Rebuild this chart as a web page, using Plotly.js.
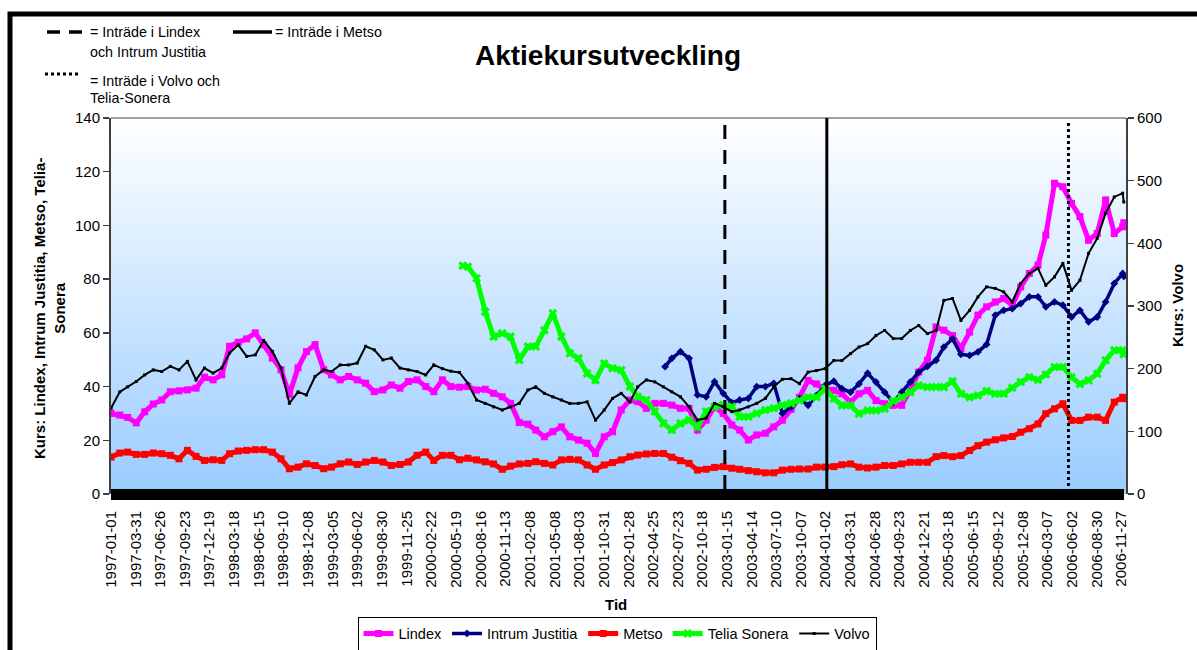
<!DOCTYPE html>
<html><head><meta charset="utf-8">
<script src="https://cdn.plot.ly/plotly-3.0.1.min.js"></script>
<style>html,body{margin:0;padding:0;background:#fff;}#chart{width:1197px;height:650px;}</style>
</head><body><div id="chart"></div>
<script>
// ---- tick labels (category dates on the x axis) ----
const tickLabels = ["1997-01-01","1997-03-31","1997-06-26","1997-09-23","1997-12-19","1998-03-18","1998-06-15","1998-09-10","1998-12-08","1999-03-05","1999-06-02","1999-08-30","1999-11-25","2000-02-22","2000-05-19","2000-08-16","2000-11-13","2001-02-08","2001-05-08","2001-08-03","2001-10-31","2002-01-28","2002-04-25","2002-07-23","2002-10-18","2003-01-15","2003-04-14","2003-07-10","2003-10-07","2004-01-02","2004-03-31","2004-06-28","2004-09-23","2004-12-21","2005-03-18","2005-06-15","2005-09-12","2005-12-08","2006-03-07","2006-06-02","2006-08-30","2006-11-27"];

const seriesNames = ["Lindex","Intrum Justitia","Metso","Telia Sonera","Volvo"];
const endDate = "2006-12-05";
const teliaStart = "2000-06-13";
const intrumStart = "2002-06-07";

// monthly readings (first of month), 1997-01 .. 2006-12, then final day
const lindex = [
 30,29.4,28.5,26.5,30.6,33.5,35,38.1,38.4,38.75,39.4,43.5,
 42.5,44.4,55,56.5,57.75,60,55.6,50.6,46.25,37,47,53,
 55.6,46.25,44.4,42.5,43.75,42.5,41.25,38.1,38.75,40.6,39.4,41.9,
 42.5,40,38.1,42.5,40,39.75,40,38.7,39,37.5,36.2,33.75,
 26.6,26,23.8,21.3,23.2,25,21.3,20.1,18.9,15.1,21.3,23.2,
 31.3,35,34.4,31.9,33.75,33.75,33.1,31.9,31.9,23.8,27.5,32.5,
 30,25.7,23.8,20.1,22,22.6,25,27.5,31.5,36,42.3,41,
 39.2,38.6,37.3,34.2,37.3,38.6,34.8,33.6,33,33,38.6,45.4,
 49.8,62.2,61,59,54.1,60.3,66.6,69.7,71.5,72.8,70.3,77.1,
 82.1,85.2,96.4,115.7,114.4,108.2,103.3,94.5,97,109.5,97,99.5,
 101];
const metso = [
 13.75,15.25,15.6,14.75,14.75,15.25,15,14.4,13.1,16.25,14,12.5,
 12.75,12.5,15,16,16.25,16.5,16.5,15.6,13.1,9.4,10,11.25,
 10.6,9.4,10,11.25,11.9,11,11.9,12.5,11.9,10.6,11,11.9,
 14.4,15.6,12.5,14.4,14.4,12.75,13.3,12.7,12,11.2,9.2,10.4,
 11.2,11.4,12,11.4,10.8,12.7,12.9,12.7,10.8,9.2,10.8,11.7,
 12.7,13.9,14.5,14.9,15.1,15.1,13.7,12.4,11.4,8.9,9.2,9.9,
 10.2,9.6,9.2,8.7,8.3,7.9,7.9,8.9,9.2,9.3,9.3,10,
 10,10.2,10.9,11.2,10,9.7,10,10.6,10.6,11.2,11.8,11.8,
 11.8,13.9,14.3,13.9,14.3,16.2,18,19.3,20.2,20.9,21.4,23,
 24.3,26.1,29.9,31.7,33.6,27.4,27.4,28.6,28.6,27.4,34.2,36,
 35.5];
const volvo = [
 137,163,171,179.5,190,198,195.5,203.6,198,211.6,182,201,
 193,201,225,238,219.6,222,245,227.7,201,144.6,163,158,
 187.5,198,195.5,206,206,209,235.7,230,214,217,201,198,
 195.5,190,206,200,196,194,176.6,150,144.6,139,134,139,
 144.6,166,171,160.6,155,150,144.6,144.6,147,118,134,152.6,
 160.6,147,171,182,179,171,163,155,139,118,121,144.6,
 139,131.4,134,139,144.6,152.6,171,183,184,176,194.5,197,
 200,213,213,224,234.5,240,253,261,248,248,261,269,
 256,261,309,312,277,293,314.5,330.5,328,322.5,306.5,336,
 352,360,333,346.5,368,325,341,384,408,448,474,480,
 466];
// Telia Sonera: listing day, then 2000-07 .. 2006-12, then final day
const telia = [85,
 84.6,80.3,67.9,58.6,59.8,58.6,
 49.9,54.9,54.9,61,67.3,58.6,52.4,50.5,44.9,42.4,48.6,46.8,
 46.2,40,36.2,35,30.7,26.3,23.8,26.3,27.5,25,30.7,32.5,
 33.1,32.5,28.8,28.8,30,31.3,31.9,33.1,33.75,34.8,36,36,
 39.2,35.5,33,33,29.9,31.1,31.1,31.7,34.6,36,37.9,40.4,
 39.8,39.8,39.8,42,37.3,36,36.7,38.3,37.3,37.3,39.6,41.7,
 43.5,42.5,44.5,47.3,47.3,43.5,41,42.3,44.8,49.8,53.5,53.5,
 52];
// Intrum Justitia: listing day, then 2002-07 .. 2006-12, then final day
const intrum = [47.4,
 50.5,53,50.5,36.9,36.2,41.8,
 37.5,34,35,35.6,40,40,41.2,30,32.3,35.5,33,36.7,
 40.4,42,39.2,37.9,41,45,41.7,37.9,34.2,37.9,41.7,45.4,
 47.5,49.8,54.7,57.8,52,51.6,52.9,55.7,66.6,68.4,69,70.9,
 73.4,73.4,69.7,71.5,70.3,65.9,68.4,64.1,65.9,71.5,78.4,82.1,
 81];

const eventDates = {lindexIntrum: "2003-01-07", metso: "2004-01-07", volvoTelia: "2006-05-21"};

function monthDates(y, m, n){
  const out = [];
  for (let i = 0; i < n; i++){
    const k = m - 1 + i;
    const yy = y + Math.floor(k / 12), mm = (k % 12) + 1;
    out.push(yy + "-" + String(mm).padStart(2, "0") + "-01");
  }
  return out;
}
const xFull = monthDates(1997, 1, 120).concat([endDate]);
const xTelia = [teliaStart].concat(monthDates(2000, 7, 78), [endDate]);
const xIntrum = [intrumStart].concat(monthDates(2002, 7, 54), [endDate]);

// pixel helpers for the frame / decorations
const W = 1197, H = 650;
const L = 111, R = 1126, T = 118, B = 494;
const px = x => (x - L) / (R - L);
const py = y => (B - y) / (B - T);

const traces = [
  {name: seriesNames[0], x: xFull, y: lindex, mode: "lines+markers",
   line: {color: "#FF00FF", width: 5}, marker: {symbol: "square", size: 7, color: "#FF00FF"}},
  {name: seriesNames[1], x: xIntrum, y: intrum, mode: "lines+markers",
   line: {color: "#000080", width: 3.5}, marker: {symbol: "diamond", size: 6, color: "#000080"}},
  {name: seriesNames[2], x: xFull, y: metso, mode: "lines+markers",
   line: {color: "#FF0000", width: 5}, marker: {symbol: "square", size: 7, color: "#FF0000"}},
  {name: seriesNames[3], x: xTelia, y: telia, mode: "lines+markers",
   line: {color: "#00FF00", width: 5}, marker: {symbol: "x", size: 8, color: "#00FF00"}},
  {name: seriesNames[4], x: xFull, y: volvo, yaxis: "y2", mode: "lines+markers",
   line: {color: "#000000", width: 2}, marker: {symbol: "square", size: 3, color: "#000000"}}
];

const shapes = [];
// gradient plot background (white top -> light blue bottom)
const N = 80;
for (let i = 0; i < N; i++){
  const t = (i + 0.5) / N; // 0 bottom .. 1 top
  const r = Math.round(153 + (255 - 153) * t), g = Math.round(204 + (255 - 204) * t);
  shapes.push({type: "rect", xref: "paper", yref: "paper", x0: 0, x1: 1, y0: i / N, y1: (i + 1) / N + 0.002,
    fillcolor: `rgb(${r},${g},255)`, line: {width: 0}, layer: "below"});
}
// plot top border
shapes.push({type: "line", xref: "paper", yref: "paper", x0: 0, x1: 1, y0: 1, y1: 1, line: {color: "#808080", width: 1.5}});
// thick black band along the bottom axis
shapes.push({type: "rect", xref: "paper", yref: "paper", x0: px(111), x1: px(1124), y0: py(500), y1: py(489),
  fillcolor: "#000", line: {width: 0}});
// event lines
shapes.push({type: "line", xref: "x", yref: "paper", x0: eventDates.lindexIntrum, x1: eventDates.lindexIntrum,
  y0: py(489), y1: 1, line: {color: "#000", width: 3, dash: "14px,11px"}});
shapes.push({type: "line", xref: "x", yref: "paper", x0: eventDates.metso, x1: eventDates.metso,
  y0: py(489), y1: 1, line: {color: "#000", width: 3}});
shapes.push({type: "line", xref: "x", yref: "paper", x0: eventDates.volvoTelia, x1: eventDates.volvoTelia,
  y0: py(486), y1: py(120), line: {color: "#000", width: 3, dash: "3px,3px"}});
// key samples top-left
shapes.push({type: "line", xref: "paper", yref: "paper", x0: px(47), x1: px(82), y0: py(32), y1: py(32),
  line: {color: "#000", width: 3.5, dash: "13px,9px"}});
shapes.push({type: "line", xref: "paper", yref: "paper", x0: px(233), x1: px(272), y0: py(32), y1: py(32),
  line: {color: "#000", width: 3.5}});
shapes.push({type: "line", xref: "paper", yref: "paper", x0: px(45), x1: px(78), y0: py(74), y1: py(74),
  line: {color: "#000", width: 3, dash: "3px,3px"}});
// outer chart frame
shapes.push({type: "rect", xref: "paper", yref: "paper", x0: px(10), x1: px(1215), y0: py(665), y1: py(14),
  line: {color: "#000", width: 5}, fillcolor: "rgba(0,0,0,0)"});

const fam = "Liberation Sans, Arial, sans-serif";
const note = (txt, x, y) => ({text: txt, xref: "paper", yref: "paper", x: px(x), y: py(y),
  xanchor: "left", yanchor: "middle", showarrow: false, font: {size: 14.3, family: fam, color: "#000"}});
const annotations = [
  note("= Inträde i Lindex", 88, 32),
  note("och Intrum Justitia", 88, 51.5),
  note("= Inträde i Metso", 273, 32),
  note("= Inträde i Volvo och", 88, 81),
  note("Telia-Sonera", 88, 98),
  {text: "Kurs: Lindex, Intrum Justitia, Metso, Telia-<br>Sonera", xref: "paper", yref: "paper",
   x: px(49), y: py(309), textangle: -90, showarrow: false, xanchor: "center", yanchor: "middle",
   font: {size: 15, family: fam, weight: "bold", color: "#000"}},
  {text: "Kurs: Volvo", xref: "paper", yref: "paper", x: px(1177), y: py(306), textangle: -90,
   showarrow: false, xanchor: "center", yanchor: "middle", font: {size: 15, family: fam, weight: "bold", color: "#000"}},
  {text: "Tid", xref: "paper", yref: "paper", x: px(616), y: py(604), showarrow: false,
   xanchor: "center", yanchor: "middle", font: {size: 15, family: fam, weight: "bold", color: "#000"}}
];

const axisY = {showgrid: false, zeroline: false, showline: true, linecolor: "#404040", linewidth: 2, automargin: false,
  ticks: "outside", ticklen: 6, tickcolor: "#404040", tickwidth: 1.5, tickfont: {size: 15, family: fam, color: "#000"}};

const layout = {
  width: W, height: H,
  margin: {l: L, r: W - R, t: T, b: H - B, pad: 0, autoexpand: false},
  paper_bgcolor: "#fff", plot_bgcolor: "rgba(0,0,0,0)",
  font: {family: fam, size: 15, color: "#000"},
  title: {text: "Aktiekursutveckling", font: {size: 28, family: fam, weight: "bold", color: "#000"},
    x: 608 / W, xref: "container", xanchor: "center", y: 1 - 55 / H, yref: "container", yanchor: "middle"},
  xaxis: {type: "date", range: ["1996-12-31 12:00", "2006-12-13"], tickvals: tickLabels, ticktext: tickLabels,
    tickangle: -90, tickfont: {size: 15, family: fam, color: "#000"}, showgrid: false, zeroline: false, automargin: false,
    showline: false, ticks: "outside", ticklen: 10, tickcolor: "rgba(0,0,0,0)"},
  yaxis: Object.assign({range: [0, 140], dtick: 20, tick0: 0}, axisY),
  yaxis2: Object.assign({range: [0, 600], dtick: 100, tick0: 0, overlaying: "y", side: "right"}, axisY),
  legend: {orientation: "h", xref: "container", yref: "container", x: 617 / W, xanchor: "center",
    y: 1 - 633.5 / H, yanchor: "middle",
    bordercolor: "#000", borderwidth: 1, bgcolor: "#fff", font: {size: 14.5, family: fam, color: "#000"},
    itemwidth: 30, traceorder: "normal"},
  showlegend: true,
  shapes: shapes,
  annotations: annotations
};

Plotly.newPlot("chart", traces, layout, {staticPlot: true, displayModeBar: false});
</script></body></html>
